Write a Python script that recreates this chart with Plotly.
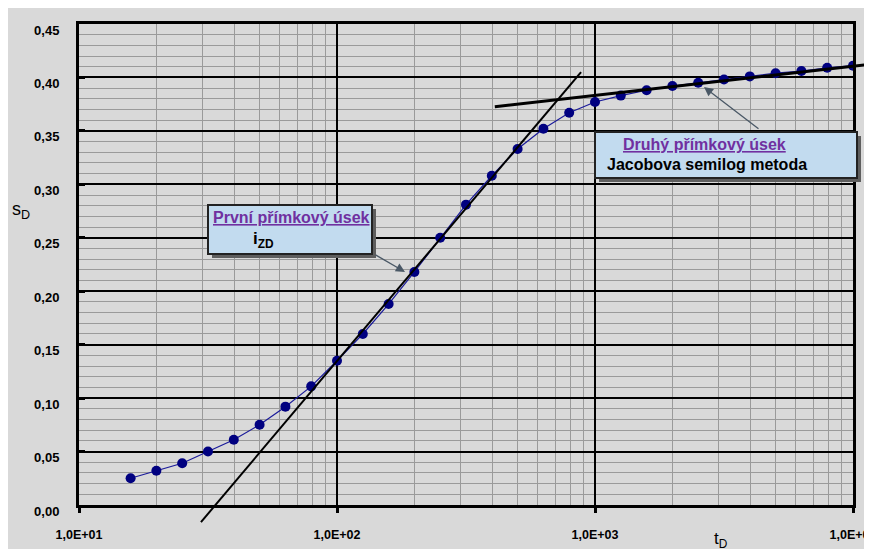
import plotly.graph_objects as go

# ---------------- data ----------------
t_D = [15.85, 19.95, 25.12, 31.62, 39.81, 50.12, 63.10, 79.43, 100.0, 125.9,
       158.5, 199.5, 251.2, 316.2, 398.1, 501.2, 631.0, 794.3, 1000.0, 1259,
       1585, 1995, 2512, 3162, 3981, 5012, 6310, 7943, 10000]
s_D = [0.025, 0.032, 0.039, 0.050, 0.061, 0.075, 0.092, 0.111, 0.135, 0.160,
       0.188, 0.218, 0.250, 0.281, 0.308, 0.333, 0.352, 0.367, 0.377, 0.383,
       0.388, 0.392, 0.395, 0.398, 0.401, 0.404, 0.406, 0.409, 0.411]

line1_x = [29.7, 883]
line1_y = [-0.016, 0.405]
line2_x = [409, 11330]
line2_y = [0.3726, 0.412]

y_ticks = [0.00, 0.05, 0.10, 0.15, 0.20, 0.25, 0.30, 0.35, 0.40, 0.45]
x_ticks = [10, 100, 1000, 10000]
x_tick_labels = ["1,0E+01", "1,0E+02", "1,0E+03", "1,0E+04"]
x_minor = [m * d for d in (10, 100, 1000) for m in range(2, 10)]
y_minor = [i / 100 for i in range(0, 46)]

# ---------------- geometry ----------------
# page body has an 8px margin, so figure pixel = screen pixel - 8
OFF = 8
W, H = 872, 549
SX0, SX1 = 79, 853          # main plot x extent (screen px)
SY0, SY1 = 505, 24          # main plot y extent (bottom, top)
SOX1, SOY0 = 867, 529       # overlay (tangent lines) right / bottom extents

ML = SX0 - OFF
MT = SY1 - OFF
MR = W - (SOX1 - OFF)
MB = H - (SOY0 - OFF)
PW = W - ML - MR
PH = H - MT - MB
dec_px = (SX1 - SX0) / 3.0
unit_px = (SY0 - SY1) / 0.45

def px(sx):
    return (sx - OFF - ML) / PW

def py(sy):
    return (H - MB - (sy - OFF)) / PH

GRAY_BG = "#d9d9d9"
FONT = "Liberation Sans, Arial, sans-serif"

fig = go.Figure()

fig.add_trace(go.Scatter(
    x=t_D, y=s_D, mode="lines+markers",
    line=dict(color="#1a1a9a", width=1.2),
    marker=dict(color="#000080", size=10),
    xaxis="x", yaxis="y", showlegend=False, hoverinfo="skip"))

fig.add_trace(go.Scatter(
    x=line1_x, y=line1_y, mode="lines",
    line=dict(color="black", width=2),
    xaxis="x2", yaxis="y2", showlegend=False, hoverinfo="skip"))
fig.add_trace(go.Scatter(
    x=line2_x, y=line2_y, mode="lines",
    line=dict(color="black", width=3),
    xaxis="x2", yaxis="y2", showlegend=False, hoverinfo="skip"))

main_xdom = [0, (SX1 - SX0) / PW]
main_ydom = [(SOY0 - SY0) / PH, 1]
ov_xmax = 1 + PW / dec_px
ov_ymin = -(SOY0 - SY0) / unit_px

fig.update_layout(
    width=W, height=H,
    margin=dict(l=ML, r=MR, t=MT, b=MB),
    paper_bgcolor=GRAY_BG, plot_bgcolor="rgba(0,0,0,0)",
    separators=", ",
    font=dict(family=FONT, color="black"),
    xaxis=dict(
        type="log", range=[1, 4], domain=main_xdom, anchor="y",
        tickvals=x_ticks, ticktext=x_tick_labels,
        tickfont=dict(family=FONT, size=12.5, weight="bold", color="black"),
        ticks="outside", ticklen=5, tickwidth=2.5, tickcolor="black",
        ticklabelstandoff=11,
        showgrid=True, gridcolor="black", gridwidth=1.5,
        showline=True, linecolor="black", linewidth=3, mirror=True,
        zeroline=False, automargin=False,
        minor=dict(tickvals=x_minor, showgrid=True, gridcolor="#9a9a9a",
                   gridwidth=1.2, ticks=""),
    ),
    yaxis=dict(
        range=[0, 0.45], domain=main_ydom, anchor="x",
        tickvals=y_ticks, tickformat=".2f",
        tickfont=dict(family=FONT, size=13, weight="bold", color="black"),
        ticks="inside", ticklen=6, tickwidth=2.5, tickcolor="black",
        ticklabelstandoff=14, ticklabelshift=6,
        showgrid=True, gridcolor="black", gridwidth=1.5,
        showline=True, linecolor="black", linewidth=3, mirror=True,
        zeroline=False, automargin=False,
        minor=dict(tickvals=y_minor, showgrid=True, gridcolor="#9a9a9a",
                   gridwidth=1.2, ticks=""),
    ),
    xaxis2=dict(type="log", range=[1, ov_xmax], domain=[0, 1], anchor="y2",
                visible=False, showgrid=False, zeroline=False),
    yaxis2=dict(range=[ov_ymin, 0.45], domain=[0, 1], anchor="x2",
                visible=False, showgrid=False, zeroline=False),
)

shapes = []

def box(xl, yt, xr, yb):
    # shadow
    shapes.append(dict(type="rect", xref="paper", yref="paper", layer="above",
                       x0=px(xl + 4), x1=px(xr + 4), y0=py(yb + 4), y1=py(yt + 4),
                       fillcolor="#5e5e5e", line=dict(width=0)))
    shapes.append(dict(type="rect", xref="paper", yref="paper", layer="above",
                       x0=px(xl), x1=px(xr), y0=py(yb), y1=py(yt),
                       fillcolor="#c2dbef", line=dict(color="#222222", width=2)))

box(208, 205, 372, 254)
box(595, 132, 857, 178)
fig.update_layout(shapes=shapes)

PURPLE = "#7030a0"
ann = []
ann.append(dict(xref="paper", yref="paper", x=px(211), y=py(217),
                xanchor="left", yanchor="middle", showarrow=False,
                text="<b><u>První přímkový úsek</u></b>",
                font=dict(family=FONT, size=16, color=PURPLE)))
ann.append(dict(xref="paper", yref="paper", x=px(251), y=py(240),
                xanchor="left", yanchor="middle", showarrow=False,
                text="<b>i<sub>ZD</sub></b>",
                font=dict(family=FONT, size=17, color="black")))
ann.append(dict(xref="paper", yref="paper", x=px(621), y=py(144),
                xanchor="left", yanchor="middle", showarrow=False,
                text="<b><u>Druhý přímkový úsek</u></b>",
                font=dict(family=FONT, size=16, color=PURPLE)))
ann.append(dict(xref="paper", yref="paper", x=px(605), y=py(164),
                xanchor="left", yanchor="middle", showarrow=False,
                text="<b>Jacobova semilog metoda</b>",
                font=dict(family=FONT, size=16, color="black")))
# arrows
ann.append(dict(xref="paper", yref="paper", x=px(405), y=py(272),
                ax=-31, ay=-18,
                showarrow=True, arrowhead=2, arrowsize=1.4, arrowwidth=1.3,
                arrowcolor="#4a5866", text=""))
ann.append(dict(xref="paper", yref="paper", x=px(704), y=py(87),
                ax=56, ay=43,
                showarrow=True, arrowhead=2, arrowsize=1.4, arrowwidth=1.3,
                arrowcolor="#4a5866", text=""))
# axis titles
ann.append(dict(xref="paper", yref="paper", x=px(21), y=py(210),
                xanchor="center", yanchor="middle", showarrow=False,
                text="s<sub>D</sub>", font=dict(family=FONT, size=18, color="black")))
ann.append(dict(xref="paper", yref="paper", x=px(721), y=py(540),
                xanchor="center", yanchor="middle", showarrow=False,
                text="t<sub>D</sub>", font=dict(family=FONT, size=17, color="black")))
fig.update_layout(annotations=ann)

fig.write_html("out.html")
